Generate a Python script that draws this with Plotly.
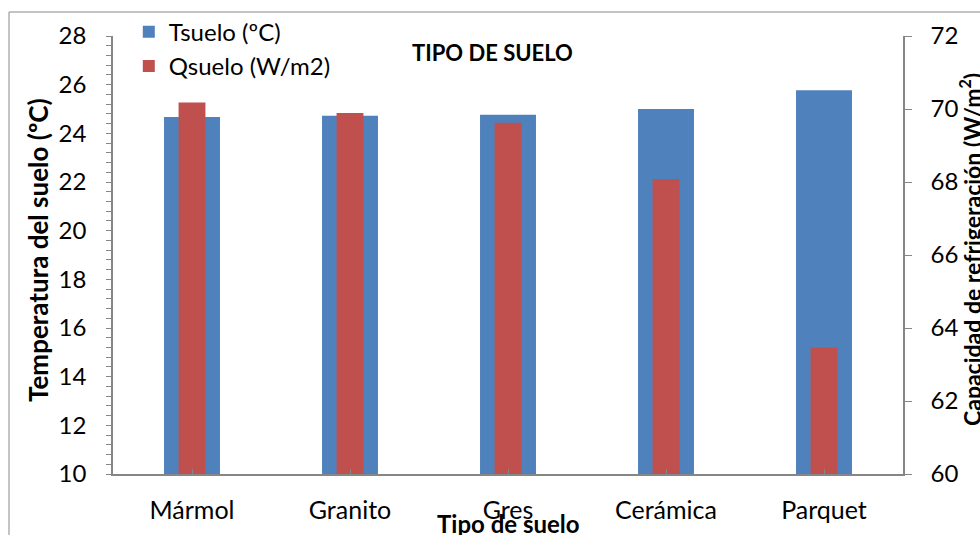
import plotly.graph_objects as go

categorias = ["Mármol", "Granito", "Gres", "Cerámica", "Parquet"]
tsuelo = [24.67, 24.72, 24.76, 25.00, 25.77]
qsuelo = [70.18, 69.89, 69.62, 68.08, 63.46]

FONT = "Lato"
AXC = "#868686"

fig = go.Figure()
fig.add_trace(go.Bar(
    x=categorias, y=tsuelo, name="Tsuelo (ºC)", yaxis="y",
    marker=dict(color="#4F81BD", line=dict(width=0)), width=0.354,
    legendgroup="a",
))
fig.add_trace(go.Bar(
    x=categorias, y=qsuelo, name="Qsuelo (W/m2)", yaxis="y2",
    marker=dict(color="#C0504D", line=dict(width=0)), width=0.17,
    legendgroup="b",
))

fig.update_layout(
    width=980, height=535,
    margin=dict(l=113, r=77, t=36, b=61, autoexpand=False),
    paper_bgcolor="white", plot_bgcolor="white",
    barmode="overlay",
    font=dict(family=FONT, size=24, color="black"),
    showlegend=True,
    legend=dict(x=0.02, y=1.06, xanchor="left", yanchor="top",
                bgcolor="rgba(0,0,0,0)", tracegroupgap=0,
                font=dict(size=24), itemwidth=30),
    xaxis=dict(
        showline=True, linecolor=AXC, linewidth=1.5, automargin=False,
        ticks="inside", ticklen=5, tickcolor=AXC,
        showgrid=False, ticklabelstandoff=13,
        tickfont=dict(size=25),
    ),
    yaxis=dict(
        range=[10, 28], dtick=2, showline=True, linecolor=AXC, linewidth=1.5,
        automargin=False,
        ticks="outside", ticklen=5, tickcolor=AXC, showgrid=False,
        minor=dict(dtick=0.4, ticks="outside", ticklen=5, tickcolor=AXC, showgrid=False),
        ticklabelstandoff=15, zeroline=False, tickfont=dict(size=24),
    ),
    yaxis2=dict(
        range=[60, 72], dtick=2, overlaying="y", side="right", automargin=False,
        showline=True, linecolor=AXC, linewidth=1.5,
        ticks="outside", ticklen=7, tickcolor=AXC, showgrid=False,
        ticklabelstandoff=14, zeroline=False, tickfont=dict(size=24),
    ),
)

# outer chart border (cropped at right and bottom)
fig.add_shape(type="rect", xref="paper", yref="paper",
              x0=(9 - 113) / 790, x1=(990 - 113) / 790,
              y0=(474 - 545) / 438, y1=(474 - 12) / 438,
              line=dict(color="#898989", width=1), layer="below")

fig.add_annotation(text="<b>TIPO DE SUELO</b>", xref="paper", yref="paper",
                   x=(492 - 113) / 790, y=(474 - 52) / 438, showarrow=False,
                   font=dict(size=22, family=FONT), xanchor="center", yanchor="middle")
fig.add_annotation(text="<b>Tipo de suelo</b>", xref="paper", yref="paper",
                   x=(508 - 113) / 790, y=(474 - 523) / 438, showarrow=False,
                   font=dict(size=24, family=FONT), xanchor="center", yanchor="middle")
fig.add_annotation(text="<b>Temperatura del suelo (ºC)</b>", xref="paper", yref="paper",
                   x=(38 - 113) / 790, y=(474 - 250) / 438, showarrow=False, textangle=-90,
                   font=dict(size=26, family=FONT), xanchor="center", yanchor="middle")
fig.add_annotation(text="<b>Capacidad de refrigeración (W/m<sup>2</sup>)</b>", xref="paper", yref="paper",
                   x=(970 - 113) / 790, y=(474 - 250) / 438, showarrow=False, textangle=-90,
                   font=dict(size=23, family=FONT), xanchor="center", yanchor="middle")

fig.write_html("out.html", post_script="document.body.style.margin='0px';",
               config={"displayModeBar": False})
